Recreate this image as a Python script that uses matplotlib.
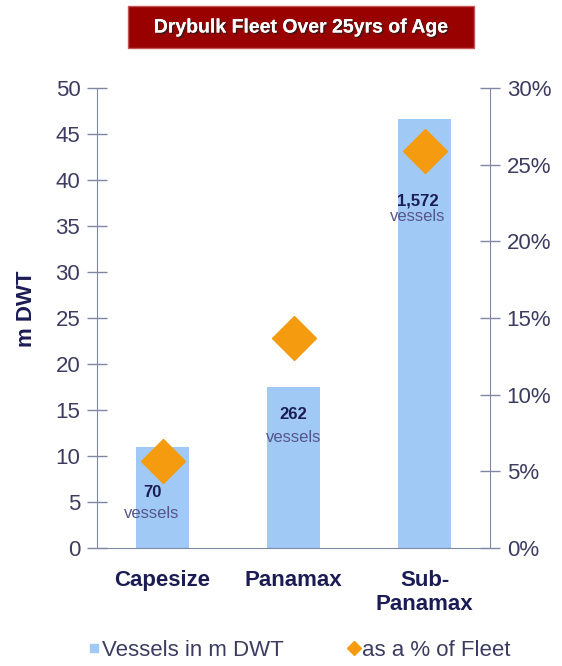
import matplotlib

matplotlib.use("Agg")
import matplotlib.pyplot as plt
import matplotlib.patheffects as pe
from matplotlib.lines import Line2D
from matplotlib.patches import Rectangle
from matplotlib.ticker import FuncFormatter

# Drybulk vessels older than 25 years, by size class
categories = ["Capesize", "Panamax", "Sub-\nPanamax"]
dwt_million = [11.0, 17.5, 46.6]          # left axis, m DWT
pct_of_fleet = [5.7, 13.7, 25.9]          # right axis, % of fleet
vessel_counts = ["70", "262", "1,572"]

BAR = "#a0c9f5"
ORANGE = "#f59b10"
NAVY = "#1c1c55"
TICK_TXT = "#3c3c60"
SPINE = "#7f87a3"
VESSELS_TXT = "#56568a"
TITLE_RED = "#990000"

plt.rcParams["font.family"] = ["Liberation Sans", "DejaVu Sans"]

fig = plt.figure(figsize=(5.62, 6.66), dpi=100)
ax = fig.add_axes([97 / 562, 118 / 666, 393 / 562, 460 / 666])
ax2 = ax.twinx()

x = list(range(len(categories)))
ax.bar(x, dwt_million, width=0.40, color=BAR, zorder=2)
ax2.plot(x, pct_of_fleet, linestyle="none", marker="D", markersize=22,
         color=ORANGE, markeredgecolor=ORANGE, zorder=3)

ax.set_xlim(-0.5, 2.5)
ax.set_ylim(0, 50)
ax2.set_ylim(0, 30)
ax.set_yticks(range(0, 51, 5))
ax2.set_yticks(range(0, 31, 5))
ax2.yaxis.set_major_formatter(FuncFormatter(lambda v, _: f"{v:.0f}%"))

ax.set_xticks(x, categories)
ax.tick_params(axis="x", length=0, pad=16, labelsize=16, labelcolor=NAVY)
for lbl in ax.get_xticklabels():
    lbl.set_fontweight("bold")
    lbl.set_linespacing(1.2)

ax.tick_params(axis="y", direction="inout", length=14, width=1, color=SPINE,
               labelsize=16, labelcolor=TICK_TXT, pad=5)
ax2.tick_params(axis="y", direction="inout", length=14, width=1, color=SPINE,
                labelsize=16, labelcolor=TICK_TXT, pad=5)

for a in (ax, ax2):
    for side in ("top", "right", "left", "bottom"):
        a.spines[side].set_visible(False)
ax.spines["left"].set_visible(True)
ax.spines["bottom"].set_visible(True)
ax2.spines["right"].set_visible(True)
ax.spines["left"].set_color(SPINE)
ax.spines["bottom"].set_color(SPINE)
ax2.spines["right"].set_color(SPINE)

ax.set_ylabel("m DWT", fontsize=16, fontweight="bold", color=NAVY)
ax.yaxis.set_label_coords(-0.152, 0.52)

# vessel counts written inside the bars
count_pos = [(-0.08, 6.0, 3.8), (0.0, 14.5, 12.0), (-0.05, 37.7, 36.0)]
for (dx, y_num, y_txt), n, xi in zip(count_pos, vessel_counts, x):
    ax.text(xi + dx, y_num, n, ha="center", va="center", fontsize=12,
            fontweight="bold", color=NAVY, zorder=4)
    ax.text(xi + dx, y_txt, "vessels", ha="center", va="center",
            fontsize=12, color=VESSELS_TXT, zorder=4)

# title banner
fig.patches.append(Rectangle((128 / 562, 1 - 48 / 666), 346 / 562, 42 / 666,
                             transform=fig.transFigure, facecolor=TITLE_RED,
                             edgecolor="#c25555", linewidth=1))
fig.text(301 / 562, 1 - 28 / 666, "Drybulk Fleet Over 25yrs of Age",
         ha="center", va="center", fontsize=14, fontweight="bold",
         color="white",
         path_effects=[pe.withSimplePatchShadow(offset=(1.2, -1.2),
                                                shadow_rgbFace="#222222",
                                                alpha=0.7),
                       pe.Normal()])

handles = [
    Line2D([], [], linestyle="none", marker="s", markersize=6, color=BAR),
    Line2D([], [], linestyle="none", marker="D", markersize=7, color=ORANGE),
]
fig.legend(handles, ["Vessels in m DWT", "as a % of Fleet"], ncol=2,
           loc="center", bbox_to_anchor=(300 / 562, 1 - 650 / 666),
           frameon=False, fontsize=16, labelcolor=TICK_TXT,
           handlelength=0.4, handletextpad=0.15, columnspacing=3.0)

fig.savefig("out.png", dpi=100, facecolor="white")
